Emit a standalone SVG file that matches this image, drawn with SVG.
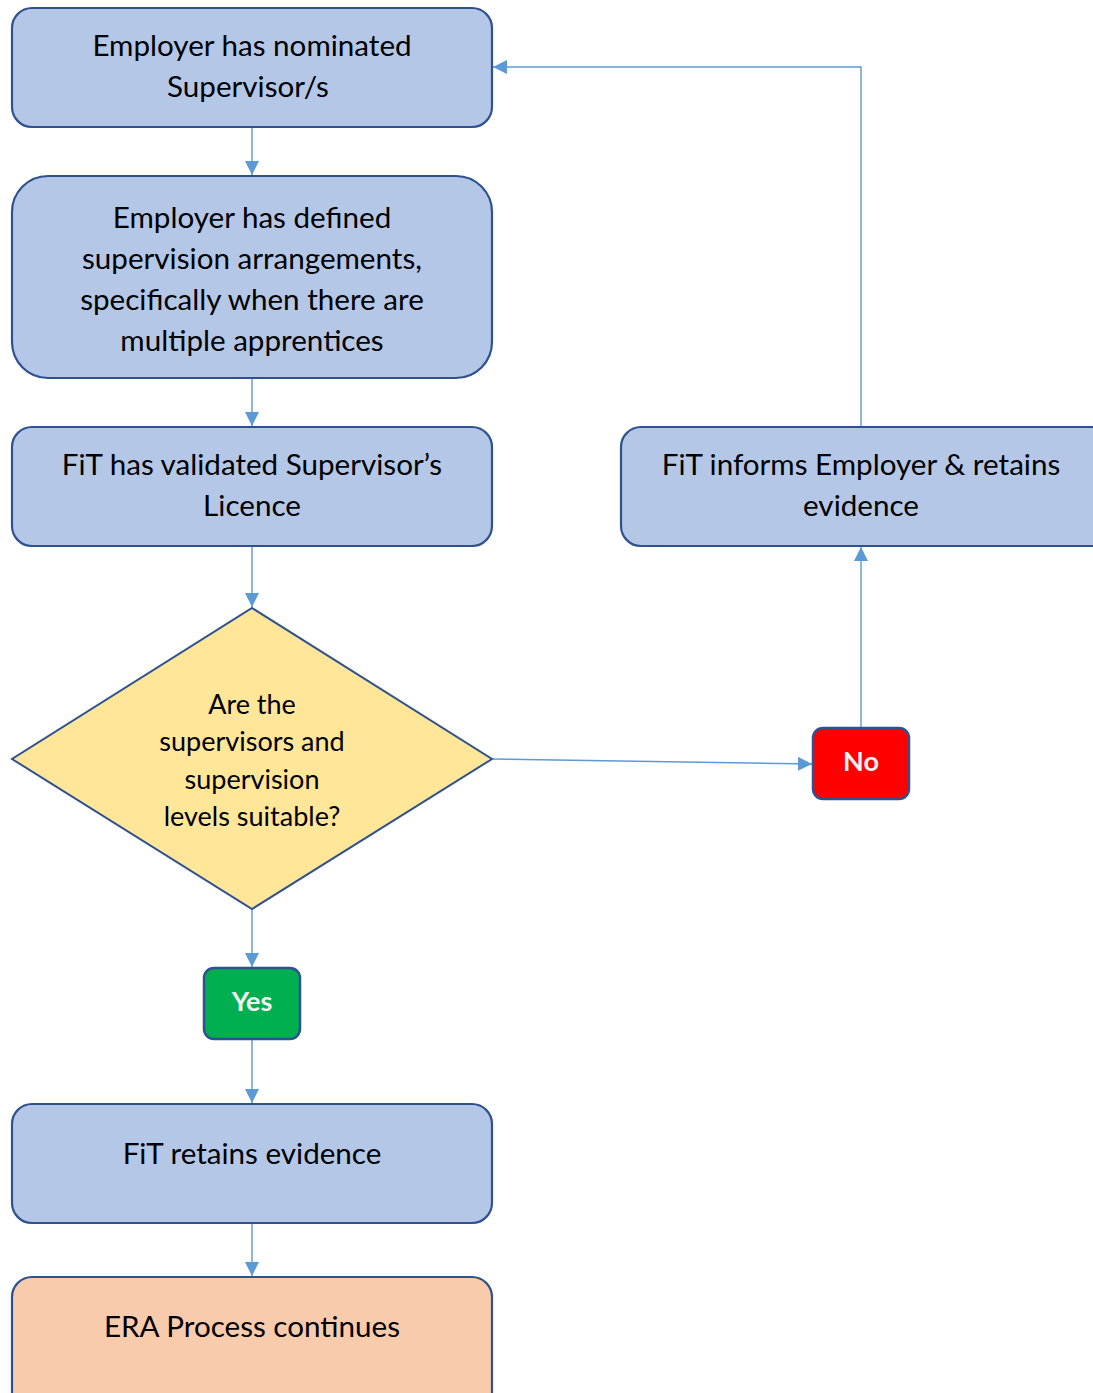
<svg xmlns="http://www.w3.org/2000/svg" width="1093" height="1393" viewBox="0 0 1093 1393">
  <style>
    .box { fill: #B4C7E7; stroke: #2F528F; stroke-width: 2.2; }
    .end { fill: #F8CBAD; stroke: #2F528F; stroke-width: 2.2; }
    .dec { fill: #FFE699; stroke: #2F528F; stroke-width: 2; }
    .yes { fill: #00B050; stroke: #2F528F; stroke-width: 2.5; }
    .no { fill: #FF0000; stroke: #2F528F; stroke-width: 2.5; }
    .t { font-family: Lato, "Liberation Sans", sans-serif; font-size: 29.6px; fill: #000; text-anchor: middle; dominant-baseline: central; }
    .td { font-family: Lato, "Liberation Sans", sans-serif; font-size: 27px; fill: #000; text-anchor: middle; dominant-baseline: central; }
    .tb { font-family: Lato, "Liberation Sans", sans-serif; font-size: 27px; font-weight: bold; fill: #F2F2F2; text-anchor: middle; dominant-baseline: central; }
    .c { fill: none; stroke: #5B9BD5; stroke-width: 1.4; marker-end: url(#ah); }
  </style>
  <defs>
    <marker id="ah" viewBox="0 0 10 10" refX="10" refY="5" markerWidth="14" markerHeight="14" markerUnits="userSpaceOnUse" orient="auto">
      <path d="M0,0 L10,5 L0,10 Z" fill="#5B9BD5"/>
    </marker>
  </defs>

  <g id="connectors">
    <line class="c" x1="252" y1="128" x2="252" y2="175"/>
    <line class="c" x1="252" y1="379" x2="252" y2="426"/>
    <line class="c" x1="252" y1="547" x2="252" y2="607"/>
    <line class="c" x1="252" y1="910" x2="252" y2="967"/>
    <line class="c" x1="252" y1="1040" x2="252" y2="1103"/>
    <line class="c" x1="252" y1="1224" x2="252" y2="1276"/>
    <line class="c" x1="493" y1="759" x2="812" y2="764"/>
    <line class="c" x1="861" y1="727" x2="861" y2="547"/>
    <polyline class="c" points="861,426 861,67 493,67"/>
  </g>

  <g id="n1">
    <rect class="box" x="12" y="8" width="480" height="119" rx="20"/>
    <text class="t" x="252" y="44">Employer has nominated</text>
    <text class="t" x="248" y="85">Supervisor/s</text>
  </g>
  <g id="n2">
    <rect class="box" x="12" y="176" width="480" height="202" rx="36"/>
    <text class="t" x="252" y="216">Employer has defined</text>
    <text class="t" x="252" y="257">supervision arrangements,</text>
    <text class="t" x="252" y="298">specifically when there are</text>
    <text class="t" x="252" y="339">multiple apprentices</text>
  </g>
  <g id="n3">
    <rect class="box" x="12" y="427" width="480" height="119" rx="20"/>
    <text class="t" x="252" y="463">FiT has validated Supervisor’s</text>
    <text class="t" x="252" y="504">Licence</text>
  </g>
  <g id="n4">
    <polygon class="dec" points="252,608 492,759 252,909 12,759"/>
    <text class="td" x="252" y="703">Are the</text>
    <text class="td" x="252" y="740">supervisors and</text>
    <text class="td" x="252" y="778">supervision</text>
    <text class="td" x="252" y="815">levels suitable?</text>
  </g>
  <g id="n5">
    <rect class="yes" x="204" y="968" width="96" height="71" rx="10"/>
    <text class="tb" x="252" y="1000">Yes</text>
  </g>
  <g id="n6">
    <rect class="box" x="12" y="1104" width="480" height="119" rx="20"/>
    <text class="t" x="252" y="1152">FiT retains evidence</text>
  </g>
  <g id="n7">
    <rect class="end" x="12" y="1277" width="480" height="140" rx="20"/>
    <text class="t" x="252" y="1325">ERA Process continues</text>
  </g>
  <g id="n8">
    <rect class="no" x="813" y="728" width="96" height="71" rx="10"/>
    <text class="tb" x="861" y="760">No</text>
  </g>
  <g id="n9">
    <rect class="box" x="621" y="427" width="490" height="119" rx="20"/>
    <text class="t" x="861" y="463">FiT informs Employer &amp; retains</text>
    <text class="t" x="861" y="504">evidence</text>
  </g>
</svg>
